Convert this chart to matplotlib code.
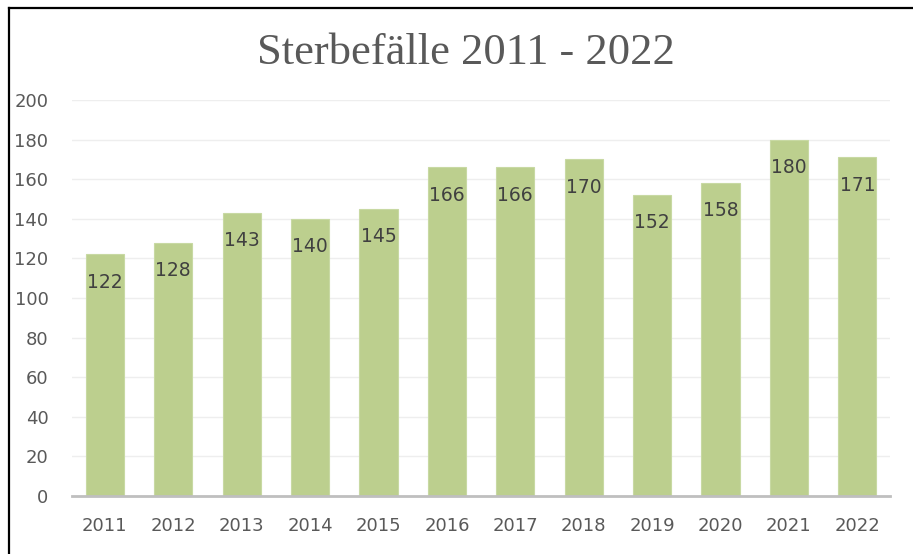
import matplotlib
matplotlib.use("Agg")
import matplotlib.pyplot as plt
from matplotlib.lines import Line2D

# Data
years = ["2011", "2012", "2013", "2014", "2015", "2016",
         "2017", "2018", "2019", "2020", "2021", "2022"]
deaths = [122, 128, 143, 140, 145, 166, 166, 170, 152, 158, 180, 171]
yticks = [0, 20, 40, 60, 80, 100, 120, 140, 160, 180, 200]

bar_color = "#bccf8e"
text_color = "#595959"
label_color = "#404040"

fig = plt.figure(figsize=(9.13, 5.54), dpi=100)
ax = fig.add_axes([0.0789, 0.1047, 0.975 - 0.0789, 0.8195 - 0.1047])

x = range(len(years))
bars = ax.bar(x, deaths, width=0.56, color=bar_color,
              edgecolor="#c8d9a3", linewidth=0.8, zorder=2)

# value labels inside the top of each bar
for rect, val in zip(bars, deaths):
    ax.annotate(str(val), (rect.get_x() + rect.get_width() / 2, val),
                xytext=(0, -20), textcoords="offset points",
                ha="center", va="center", fontsize=13.5, color=label_color)

ax.set_xlim(-0.48, len(years) - 0.52)
ax.set_ylim(0, 200)
ax.set_yticks(yticks)
ax.set_xticks(list(x))
ax.set_xticklabels(years)
ax.tick_params(axis="both", length=0, labelsize=13, colors=text_color)
ax.tick_params(axis="x", pad=15)
ax.tick_params(axis="y", pad=17)

ax.grid(axis="y", color="#eeeeee", linewidth=1, zorder=0)
ax.set_axisbelow(True)
for side in ["top", "right", "left"]:
    ax.spines[side].set_visible(False)
ax.spines["bottom"].set_color("#bfbfbf")
ax.spines["bottom"].set_linewidth(2)
ax.spines["bottom"].set_zorder(3)

fig.text(0.510, 0.904, "Sterbefälle 2011 - 2022", ha="center", va="center",
         fontsize=32, color=text_color, family="Liberation Serif")

# frame lines at the left and top edge
fig.add_artist(Line2D([0.0104, 0.0104], [0, 0.9856], color="black", linewidth=1.6))
fig.add_artist(Line2D([0.0104, 1.0], [0.9856, 0.9856], color="black", linewidth=1.6))

fig.savefig("out.png", dpi=100)
